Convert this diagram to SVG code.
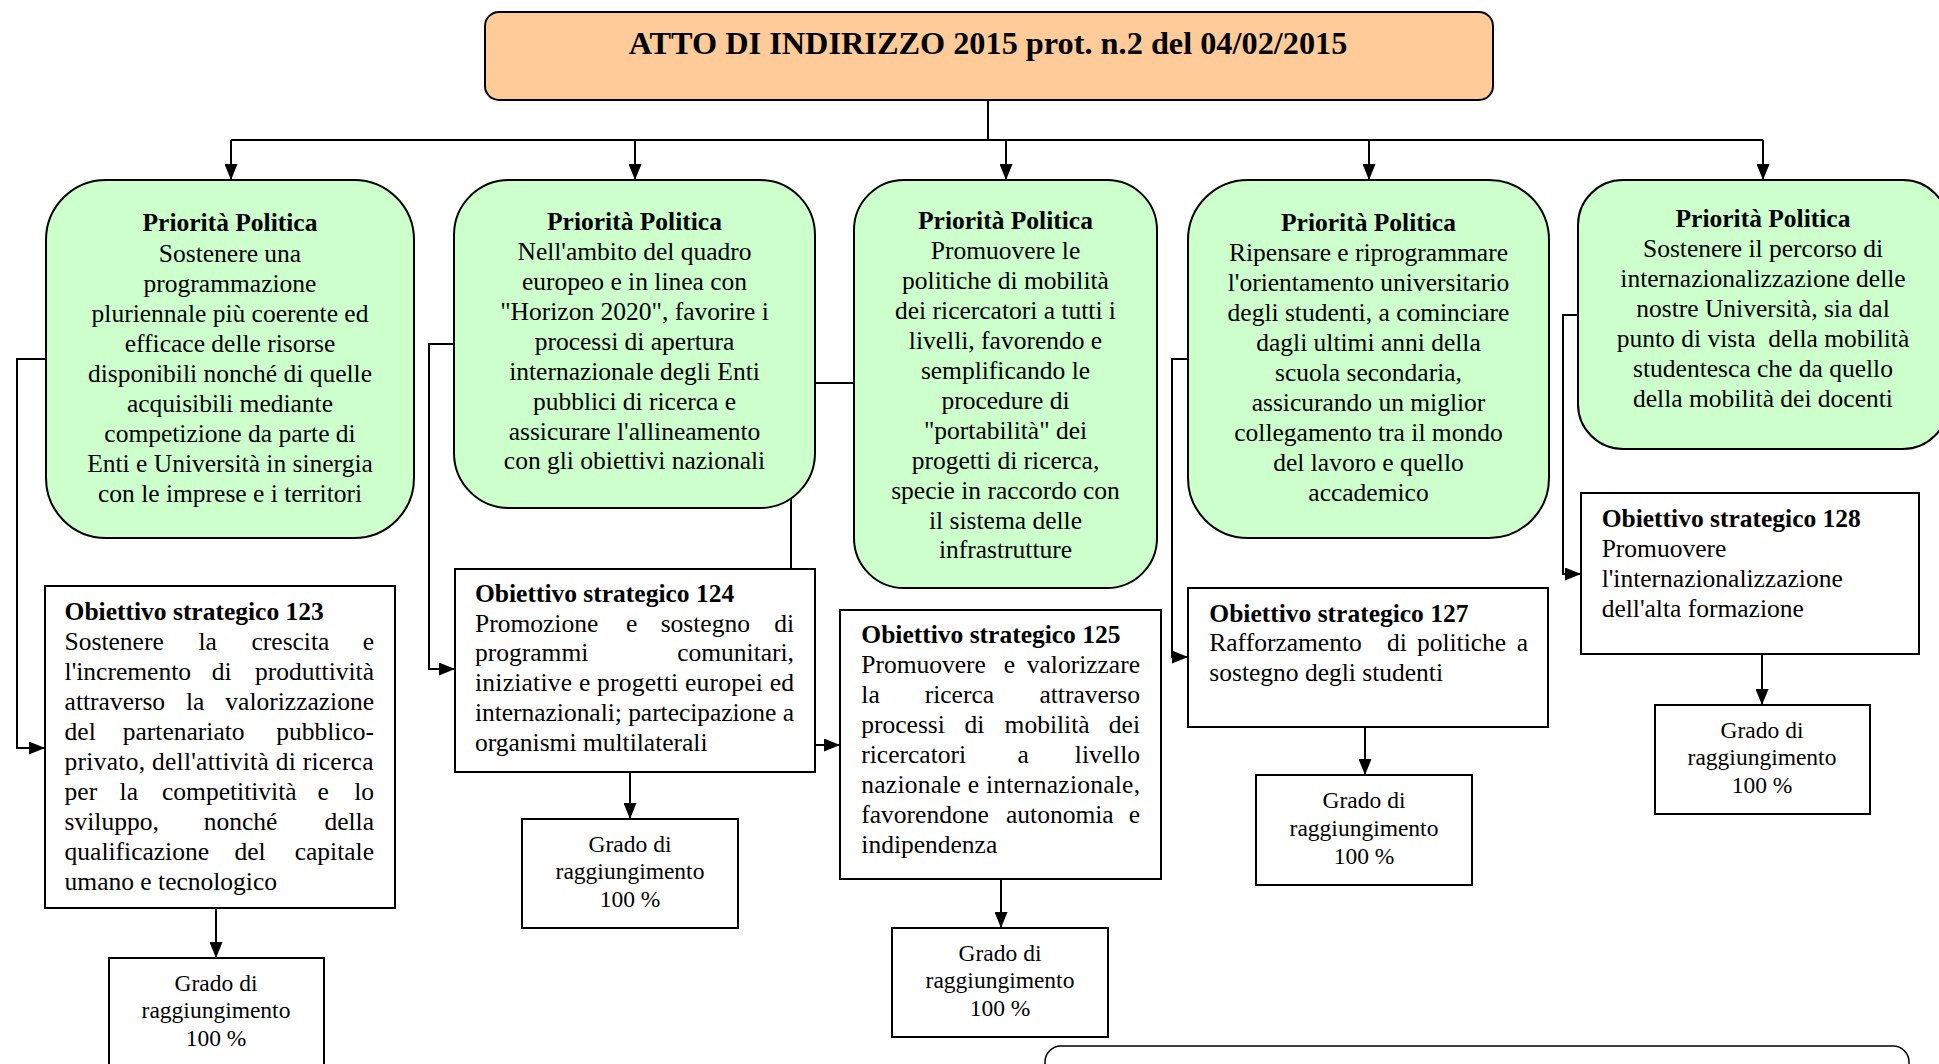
<svg xmlns="http://www.w3.org/2000/svg" width="1939" height="1064" viewBox="0 0 1939 1064">
  <defs>
    <marker id="arr" viewBox="0 0 16 13" refX="16" refY="6.5" markerWidth="16" markerHeight="13" markerUnits="userSpaceOnUse" orient="auto">
      <path d="M0,0 L16,6.5 L0,13 z" fill="#000"/>
    </marker>
    <style>
      text { font-family: "Liberation Serif", "Times New Roman", serif; fill: #000; }
      .t { font-size: 32.3px; font-weight: bold; text-anchor: middle; }
      .pp { font-size: 25.5px; text-anchor: middle; }
      .o { font-size: 25.5px; }
      .h { font-weight: bold; }
      .g { font-size: 23.5px; text-anchor: middle; }
      .end { text-anchor: end; }
      .peach { fill: #FFCC99; stroke: #000; stroke-width: 2; }
      .green { fill: #CCFFCC; stroke: #000; stroke-width: 2; }
      .box { fill: #FFFFFF; stroke: #000; stroke-width: 2; }
      .wire { fill: none; stroke: #000; stroke-width: 2; }
      .arrow { marker-end: url(#arr); }
    </style>
  </defs>

  <rect width="1939" height="1064" fill="#FFFFFF"/>

  <!-- connectors (drawn first so boxes hide the hidden runs) -->
  <g id="connectors">
    <path class="wire" d="M988,100 V140"/>
    <path class="wire" d="M231,140 H1763"/>
    <path class="wire arrow" d="M231,140 V180"/>
    <path class="wire arrow" d="M635,140 V180"/>
    <path class="wire arrow" d="M1006,140 V180"/>
    <path class="wire arrow" d="M1369,140 V180"/>
    <path class="wire arrow" d="M1763,140 V180"/>

    <path class="wire arrow" d="M46,359 H17 V748 H45"/>
    <path class="wire arrow" d="M454,344 H429 V669 H455"/>
    <path class="wire arrow" d="M854,383 H791 V745 H840"/>
    <path class="wire arrow" d="M1188,359 H1172 V657 H1188"/>
    <path class="wire arrow" d="M1578,315 H1563 V574 H1581"/>

    <path class="wire arrow" d="M216,908 V958"/>
    <path class="wire arrow" d="M630,772 V819"/>
    <path class="wire arrow" d="M1001,879 V928"/>
    <path class="wire arrow" d="M1365,727 V775"/>
    <path class="wire arrow" d="M1762,654 V705"/>
  </g>

  <!-- heading -->
  <g id="atto">
    <rect class="peach" x="485" y="12" width="1008" height="88" rx="14"/>
    <text class="t" x="988" y="54">ATTO DI INDIRIZZO 2015 prot. n.2 del 04/02/2015</text>
  </g>

  <!-- political priorities -->
  <g id="priorita-1">
    <rect class="green" x="46" y="180" width="368" height="358" rx="60"/>
    <text class="pp h" x="230" y="231">Priorità Politica</text>
    <text class="pp" x="230" y="262">Sostenere una</text>
    <text class="pp" x="230" y="292">programmazione</text>
    <text class="pp" x="230" y="322">pluriennale più coerente ed</text>
    <text class="pp" x="230" y="352">efficace delle risorse</text>
    <text class="pp" x="230" y="382">disponibili nonché di quelle</text>
    <text class="pp" x="230" y="412">acquisibili mediante</text>
    <text class="pp" x="230" y="442">competizione da parte di</text>
    <text class="pp" x="230" y="472">Enti e Università in sinergia</text>
    <text class="pp" x="230" y="502">con le imprese e i territori</text>
  </g>

  <g id="priorita-2">
    <rect class="green" x="454" y="180" width="361" height="328" rx="55"/>
    <text class="pp h" x="634.5" y="230">Priorità Politica</text>
    <text class="pp" x="634.5" y="260">Nell'ambito del quadro</text>
    <text class="pp" x="634.5" y="290">europeo e in linea con</text>
    <text class="pp" x="634.5" y="320">"Horizon 2020", favorire i</text>
    <text class="pp" x="634.5" y="350">processi di apertura</text>
    <text class="pp" x="634.5" y="380">internazionale degli Enti</text>
    <text class="pp" x="634.5" y="410">pubblici di ricerca e</text>
    <text class="pp" x="634.5" y="440">assicurare l'allineamento</text>
    <text class="pp" x="634.5" y="469">con gli obiettivi nazionali</text>
  </g>

  <g id="priorita-3">
    <rect class="green" x="854" y="180" width="303" height="408" rx="50"/>
    <text class="pp h" x="1005.5" y="229">Priorità Politica</text>
    <text class="pp" x="1005.5" y="259">Promuovere le</text>
    <text class="pp" x="1005.5" y="289">politiche di mobilità</text>
    <text class="pp" x="1005.5" y="319">dei ricercatori a tutti i</text>
    <text class="pp" x="1005.5" y="349">livelli, favorendo e</text>
    <text class="pp" x="1005.5" y="379">semplificando le</text>
    <text class="pp" x="1005.5" y="409">procedure di</text>
    <text class="pp" x="1005.5" y="439">"portabilità" dei</text>
    <text class="pp" x="1005.5" y="469">progetti di ricerca,</text>
    <text class="pp" x="1005.5" y="499">specie in raccordo con</text>
    <text class="pp" x="1005.5" y="529">il sistema delle</text>
    <text class="pp" x="1005.5" y="558">infrastrutture</text>
  </g>

  <g id="priorita-4">
    <rect class="green" x="1188" y="180" width="361" height="358" rx="60"/>
    <text class="pp h" x="1368.5" y="231">Priorità Politica</text>
    <text class="pp" x="1368.5" y="261">Ripensare e riprogrammare</text>
    <text class="pp" x="1368.5" y="291">l'orientamento universitario</text>
    <text class="pp" x="1368.5" y="321">degli studenti, a cominciare</text>
    <text class="pp" x="1368.5" y="351">dagli ultimi anni della</text>
    <text class="pp" x="1368.5" y="381">scuola secondaria,</text>
    <text class="pp" x="1368.5" y="411">assicurando un miglior</text>
    <text class="pp" x="1368.5" y="441">collegamento tra il mondo</text>
    <text class="pp" x="1368.5" y="471">del lavoro e quello</text>
    <text class="pp" x="1368.5" y="501">accademico</text>
  </g>

  <g id="priorita-5">
    <rect class="green" x="1578" y="180" width="370" height="269" rx="45"/>
    <text class="pp h" x="1763" y="227">Priorità Politica</text>
    <text class="pp" x="1763" y="257">Sostenere il percorso di</text>
    <text class="pp" x="1763" y="287">internazionalizzazione delle</text>
    <text class="pp" x="1763" y="317">nostre Università, sia dal</text>
    <text class="pp" x="1763" y="347">punto di vista&#160; della mobilità</text>
    <text class="pp" x="1763" y="377">studentesca che da quello</text>
    <text class="pp" x="1763" y="407">della mobilità dei docenti</text>
  </g>

  <!-- strategic objectives -->
  <g id="obiettivo-123">
    <rect class="box" x="45" y="586" width="350" height="322"/>
    <text class="o h" x="64.6" y="620">Obiettivo strategico 123</text>
    <text class="o" y="650"><tspan x="64.6">Sostenere</tspan><tspan x="198.5">la</tspan><tspan x="251.5">crescita</tspan><tspan x="374" class="end">e</tspan></text>
    <text class="o" y="680"><tspan x="64.6">l'incremento</tspan><tspan x="211.8">di</tspan><tspan x="374" class="end">produttività</tspan></text>
    <text class="o" y="710"><tspan x="64.6">attraverso</tspan><tspan x="186">la</tspan><tspan x="374" class="end">valorizzazione</tspan></text>
    <text class="o" y="740"><tspan x="64.6">del</tspan><tspan x="122.8">partenariato</tspan><tspan x="374" class="end">pubblico-</tspan></text>
    <text class="o" x="64.6" y="770" textLength="309" lengthAdjust="spacing">privato, dell'attività di ricerca</text>
    <text class="o" y="800"><tspan x="64.6">per</tspan><tspan x="119.6">la</tspan><tspan x="162">competitività</tspan><tspan x="317.6">e</tspan><tspan x="374" class="end">lo</tspan></text>
    <text class="o" y="830"><tspan x="64.6">sviluppo,</tspan><tspan x="203.8">nonché</tspan><tspan x="374" class="end">della</tspan></text>
    <text class="o" y="860"><tspan x="64.6">qualificazione</tspan><tspan x="234.5">del</tspan><tspan x="374" class="end">capitale</tspan></text>
    <text class="o" x="64.6" y="890">umano e tecnologico</text>
  </g>

  <g id="obiettivo-124">
    <rect class="box" x="455" y="569" width="360" height="203"/>
    <text class="o h" x="475" y="602">Obiettivo strategico 124</text>
    <text class="o" y="632"><tspan x="475">Promozione</tspan><tspan x="626">e</tspan><tspan x="660.7">sostegno</tspan><tspan x="794" class="end">di</tspan></text>
    <text class="o" y="661"><tspan x="475">programmi</tspan><tspan x="794" class="end">comunitari,</tspan></text>
    <text class="o" x="475" y="691" textLength="319" lengthAdjust="spacing">iniziative e progetti europei ed</text>
    <text class="o" x="475" y="721" textLength="319" lengthAdjust="spacing">internazionali; partecipazione a</text>
    <text class="o" x="475" y="751">organismi multilaterali</text>
  </g>

  <g id="obiettivo-125">
    <rect class="box" x="840" y="610" width="321" height="269"/>
    <text class="o h" x="861.3" y="643">Obiettivo strategico 125</text>
    <text class="o" y="673"><tspan x="861.3">Promuovere</tspan><tspan x="1003.7">e</tspan><tspan x="1140" class="end">valorizzare</tspan></text>
    <text class="o" y="703"><tspan x="861.3">la</tspan><tspan x="924.7">ricerca</tspan><tspan x="1140" class="end">attraverso</tspan></text>
    <text class="o" y="733"><tspan x="861.3">processi</tspan><tspan x="964.6">di</tspan><tspan x="1004.6">mobilità</tspan><tspan x="1140" class="end">dei</tspan></text>
    <text class="o" y="763"><tspan x="861.3">ricercatori</tspan><tspan x="1017.4">a</tspan><tspan x="1140" class="end">livello</tspan></text>
    <text class="o" x="861.3" y="793" textLength="278.7" lengthAdjust="spacing">nazionale e internazionale,</text>
    <text class="o" y="823"><tspan x="861.3">favorendone</tspan><tspan x="1006">autonomia</tspan><tspan x="1140" class="end">e</tspan></text>
    <text class="o" x="861.3" y="853">indipendenza</text>
  </g>

  <g id="obiettivo-127">
    <rect class="box" x="1188" y="588" width="360" height="139"/>
    <text class="o h" x="1209.3" y="622">Obiettivo strategico 127</text>
    <text class="o" y="651"><tspan x="1209.3">Rafforzamento</tspan><tspan x="1387">di</tspan><tspan x="1416.9">politiche</tspan><tspan x="1528" class="end">a</tspan></text>
    <text class="o" x="1209.3" y="681">sostegno degli studenti</text>
  </g>

  <g id="obiettivo-128">
    <rect class="box" x="1581" y="493" width="338" height="161"/>
    <text class="o h" x="1601.7" y="527">Obiettivo strategico 128</text>
    <text class="o" x="1601.7" y="557">Promuovere</text>
    <text class="o" x="1601.7" y="587">l'internazionalizzazione</text>
    <text class="o" x="1601.7" y="617">dell'alta formazione</text>
  </g>

  <!-- achievement level -->
  <g id="grado-123">
    <rect class="box" x="109" y="958" width="215" height="130"/>
    <text class="g" x="216" y="991">Grado di</text>
    <text class="g" x="216" y="1018">raggiungimento</text>
    <text class="g" x="216" y="1046">100 %</text>
  </g>
  <g id="grado-124">
    <rect class="box" x="522" y="819" width="216" height="109"/>
    <text class="g" x="630" y="852">Grado di</text>
    <text class="g" x="630" y="879">raggiungimento</text>
    <text class="g" x="630" y="907">100 %</text>
  </g>
  <g id="grado-125">
    <rect class="box" x="892" y="928" width="216" height="109"/>
    <text class="g" x="1000" y="961">Grado di</text>
    <text class="g" x="1000" y="988">raggiungimento</text>
    <text class="g" x="1000" y="1016">100 %</text>
  </g>
  <g id="grado-127">
    <rect class="box" x="1256" y="775" width="216" height="110"/>
    <text class="g" x="1364" y="808">Grado di</text>
    <text class="g" x="1364" y="836">raggiungimento</text>
    <text class="g" x="1364" y="864">100 %</text>
  </g>
  <g id="grado-128">
    <rect class="box" x="1655" y="705" width="215" height="109"/>
    <text class="g" x="1762" y="738">Grado di</text>
    <text class="g" x="1762" y="765">raggiungimento</text>
    <text class="g" x="1762" y="793">100 %</text>
  </g>

  <!-- lower frame, continuing past the bottom edge -->
  <g id="riquadro">
    <rect x="1045" y="1046" width="864" height="60" rx="16" fill="#FFFFFF" stroke="#000" stroke-width="1.5"/>
  </g>
</svg>
